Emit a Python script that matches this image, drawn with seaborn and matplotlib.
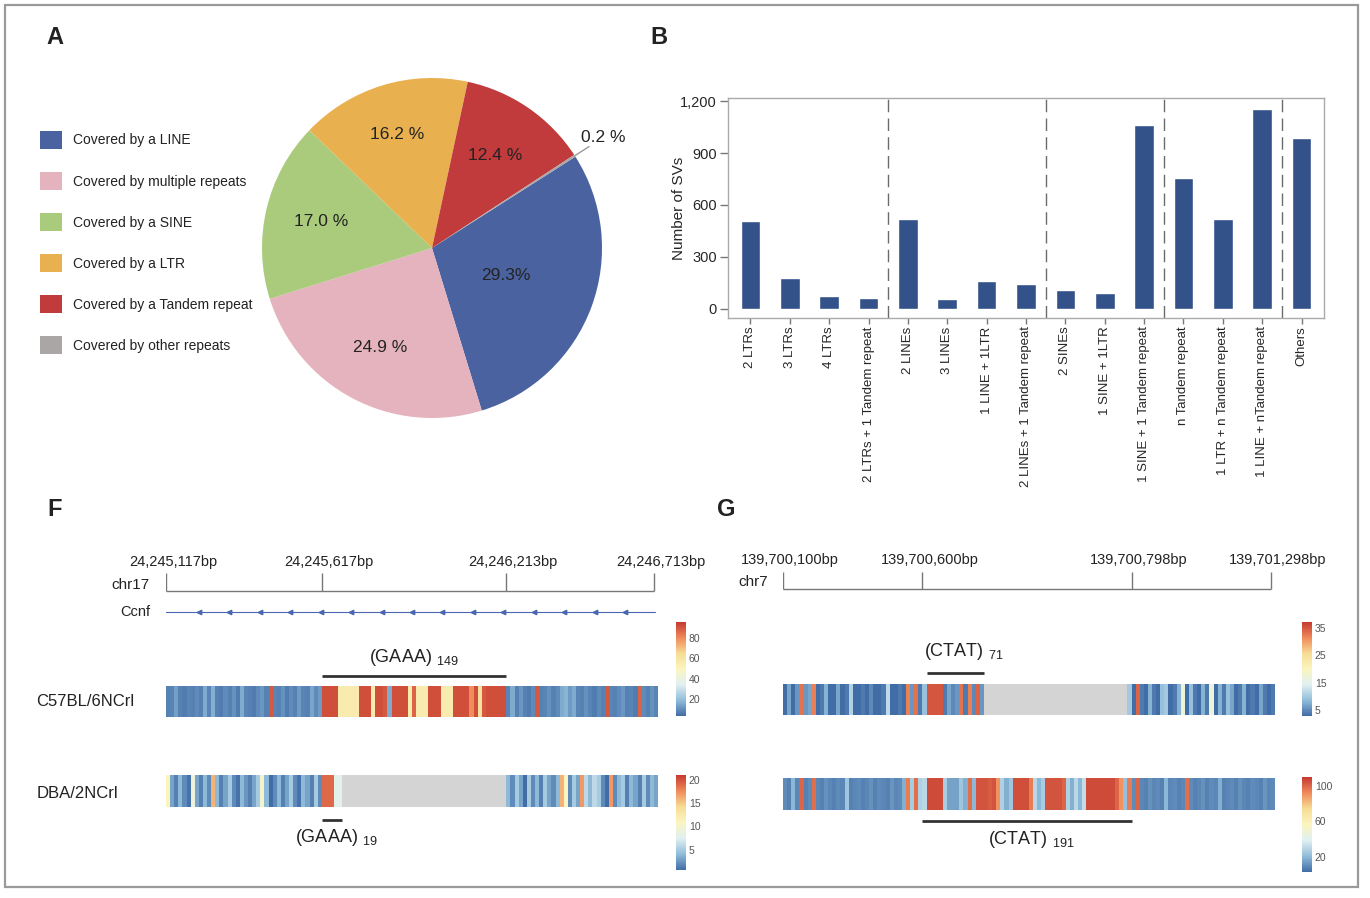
import numpy as np
import pandas as pd
import matplotlib
matplotlib.use("Agg")
import matplotlib.pyplot as plt
import seaborn as sns
from matplotlib.colors import LinearSegmentedColormap
from matplotlib.patches import Rectangle
from matplotlib.ticker import FuncFormatter
from matplotlib.transforms import offset_copy

# ---------------- data ----------------
# A: repeat content of SVs (%)
cover_labels = ["Covered by a LINE", "Covered by multiple repeats", "Covered by a SINE",
                "Covered by a LTR", "Covered by a Tandem repeat", "Covered by other repeats"]
cover_pct = [29.3, 24.9, 17.0, 16.2, 12.4, 0.2]
cover_text = ["29.3%", "24.9 %", "17.0 %", "16.2 %", "12.4 %", "0.2 %"]

# B: SVs covered by multiple repeats
combo_names = ["2 LTRs", "3 LTRs", "4 LTRs", "2 LTRs + 1 Tandem repeat",
               "2 LINEs", "3 LINEs", "1 LINE + 1LTR", "2 LINEs + 1 Tandem repeat",
               "2 SINEs", "1 SINE + 1LTR", "1 SINE + 1 Tandem repeat",
               "n Tandem repeat", "1 LTR + n Tandem repeat", "1 LINE + nTandem repeat",
               "Others"]
combo_counts = [510, 178, 72, 60, 517, 58, 157, 143, 105, 91, 1063, 757, 521, 1159, 989]
combo_group_sizes = [4, 4, 3, 3, 1]

# F: chr17 / Ccnf, (GAAA)n signal per bin
f_ruler_labels = ["24,245,117bp", "24,245,617bp", "24,246,213bp", "24,246,713bp"]
f_c57_left = [7, 8, 13, 7, 6, 8, 7, 9, 7, 15, 8, 16, 7, 6, 9, 7, 10, 6, 15, 8,
              7, 6, 9, 11, 7, 90, 8, 7, 10, 6, 9, 7, 12, 8, 7, 14, 9, 12]
f_c57_repeat = [92, 92, 92, 92, 56, 56, 56, 56, 56, 92, 92, 92, 56, 92, 92, 90, 15,
                92, 92, 92, 92, 56, 88, 56, 56, 56, 92, 92, 92, 56, 56, 56,
                92, 92, 92, 92, 80, 92, 62, 90, 92, 92, 92, 92, 92]
f_c57_right = [8, 15, 7, 11, 7, 6, 9, 90, 7, 8, 10, 7, 9, 15, 17, 12, 15, 8, 7, 10,
               8, 6, 9, 7, 90, 8, 7, 9, 11, 7, 8, 6, 88, 9, 7, 10, 8]
f_dba_left = [11, 3, 1.5, 4, 2, 1, 9, 3, 1.5, 4, 2, 16, 4, 1.5, 3, 5, 2, 1, 4, 2.5,
              1.5, 3, 5, 10, 4, 0, 2, 4, 1.5, 3, 5, 2, 1, 4, 3, 1.5, 5, 2]
f_dba_repeat = [19, 19, 19, 8, 8]
f_dba_gap_bins = 40
f_dba_right = [4, 2, 5, 3, 0, 5, 2, 4, 1.5, 5, 3, 2, 4, 16, 11, 2, 5, 3, 17, 6,
               4, 6, 5, 2, 0, 17, 2, 4, 5, 1.5, 4, 3, 1.5, 5, 2, 4, 3]
f_dba_span = [38, 43]

# G: chr7, (CTAT)n signal per bin
g_ruler_labels = ["139,700,100bp", "139,700,600bp", "139,700,798bp", "139,701,298bp"]
g_top_left = [3, 7, 3, 6, 33, 6, 7, 32, 3, 4, 8, 3, 2, 7, 3, 4, 11, 3, 2, 4,
              3, 5, 2, 3, 4, 12, 3, 2, 4, 3, 32, 6, 33, 4]
g_top_repeat = [9, 35, 35, 35, 35, 4, 7, 5, 6, 33, 4, 32, 5, 34, 6]
g_top_gap_bins = 35
g_top_tail = [10]
g_top_right = [3, 34, 4, 3, 8, 4, 3, 9, 10, 3, 4, 8, 17, 3, 9, 4, 3, 8, 4, 17,
               3, 8, 4, 9, 7, 3, 4, 8, 3, 4, 3, 7, 4, 3, 4]
g_top_span = [35, 49]
g_bot_left = [10, 8, 20, 9, 100, 8, 10, 98, 9, 8, 11, 9, 8, 10, 9, 24, 8, 9, 10, 8,
              9, 11, 8, 10, 9, 8, 12, 9, 10, 18, 95, 26, 98, 28]
g_bot_repeat = [30, 106, 106, 106, 106, 26, 15, 15, 15, 24, 18, 98, 20, 104, 104, 104,
                102, 104, 90, 28, 18, 24, 105, 105, 105, 105, 95, 30, 20, 26,
                104, 104, 104, 104, 100, 28, 18, 30, 20, 32,
                106, 106, 106, 106, 106, 106, 106, 100, 90, 22, 95]
g_bot_right = [10, 100, 9, 8, 11, 9, 10, 8, 20, 9, 10, 8, 9, 98, 10, 8, 9, 11, 8, 10,
               9, 18, 8, 9, 10, 8, 11, 9, 8, 10, 9, 8, 12, 9, 10]

# ---------------- style ----------------
sns.set_style("white")
plt.rcParams["font.family"] = ["Liberation Sans", "DejaVu Sans"]
plt.rcParams["mathtext.fontset"] = "custom"
plt.rcParams["mathtext.rm"] = "Liberation Sans"
plt.rcParams["mathtext.it"] = "Liberation Sans:italic"
plt.rcParams["mathtext.bf"] = "Liberation Sans:bold"
plt.rcParams["mathtext.default"] = "regular"
plt.rcParams["text.color"] = "#222222"

pie_colors = ["#4A63A0", "#E5B3BE", "#A9CB7B", "#E9B04F", "#C13A3C", "#ABA6A6"]
bar_color = "#33528A"
heat_cmap = LinearSegmentedColormap.from_list(
    "pheat", ["#416DA6", "#91BDDA", "#E0F0F2", "#FBF5C0", "#F7DC95", "#F08A5A", "#C53A30"])
na_color = "#D4D4D4"

W, H = 1370, 898
fig = plt.figure(figsize=(13.7, 8.98), dpi=100)


def box(x, y, w, h):
    return [x / W, 1 - (y + h) / H, w / W, h / H]


def fpos(x, y):
    return x / W, 1 - y / H


fig.add_artist(Rectangle(fpos(5, 887), 1353 / W, 882 / H, transform=fig.transFigure,
                         fill=False, edgecolor="#9a9a9a", lw=1.6))

for letter, x, y in [("A", 46, 38), ("B", 650, 38), ("F", 47, 510), ("G", 717, 510)]:
    fig.text(*fpos(x, y), letter, fontsize=17, fontweight="bold", ha="left", va="center")

# ---------------- A: pie ----------------
ax_pie = fig.add_axes(box(262, 78, 340, 340))
wedges, _ = ax_pie.pie(cover_pct, colors=pie_colors, startangle=32.5, counterclock=False,
                       wedgeprops=dict(linewidth=0))
ax_pie.set_xlim(-1, 1)
ax_pie.set_ylim(-1, 1)
ax_pie.set_aspect("equal")
label_r = [0.46, 0.66, 0.67, 0.70, 0.66, 1.2]
for w, txt, r in zip(wedges, cover_text, label_r):
    ang = np.deg2rad((w.theta1 + w.theta2) / 2)
    ax_pie.text(r * np.cos(ang), r * np.sin(ang), txt, ha="center", va="center",
                fontsize=12.5, color="#222222")
ang = np.deg2rad((wedges[-1].theta1 + wedges[-1].theta2) / 2)
ax_pie.plot([np.cos(ang), 1.1 * np.cos(ang)], [np.sin(ang), 1.1 * np.sin(ang)],
            color="#9a9a9a", lw=1, clip_on=False)

fig.legend(wedges, cover_labels, loc="upper left", bbox_to_anchor=fpos(40, 131),
           frameon=False, fontsize=10, handlelength=1.6, handleheight=1.6,
           labelspacing=1.67, handletextpad=0.75, borderpad=0, borderaxespad=0)

# ---------------- B: bars ----------------
ax_b = fig.add_axes(box(728, 98, 596, 220))
df_b = pd.DataFrame({"combo": combo_names, "n_sv": combo_counts})
sns.barplot(data=df_b, x="combo", y="n_sv", color=bar_color, saturation=1, width=0.5, ax=ax_b)
ax_b.set_xlim(-0.57, len(combo_names) - 0.43)
ax_b.set_ylim(-55, 1220)
ax_b.set_yticks([0, 300, 600, 900, 1200])
ax_b.yaxis.set_major_formatter(FuncFormatter(lambda v, p: f"{v:,.0f}"))
for sep in np.cumsum(combo_group_sizes)[:-1] - 0.5:
    ax_b.axvline(sep, color="#6b6b6b", lw=1, ls=(0, (9, 4.5)))
ax_b.set_xlabel("")
ax_b.set_ylabel("Number of SVs", fontsize=11)
ax_b.yaxis.set_label_coords(-0.0705, 0.5)
ax_b.tick_params(axis="x", rotation=90, labelsize=9.5, length=4, width=1, color="#777777",
                 pad=2, bottom=True)
ax_b.tick_params(axis="y", labelsize=10.5, length=6, width=1, color="#777777", pad=2, left=True)
for s in ax_b.spines.values():
    s.set_color("#aaaaaa")
    s.set_linewidth(1)


# ---------------- strip helper ----------------
def strip(ax, cax, values, vmin, vmax, ticks):
    sns.heatmap(np.array([values], dtype=float), ax=ax, cbar_ax=cax, cmap=heat_cmap,
                vmin=vmin, vmax=vmax, xticklabels=False, yticklabels=False,
                cbar_kws={"ticks": ticks})
    ax.set_facecolor(na_color)
    cb = ax.collections[0].colorbar
    cb.outline.set_visible(False)
    cax.tick_params(length=0, labelsize=7.5, colors="#555555", pad=2)


def ruler(ax, ticks, labels, y_line, y_top, y_text):
    ax.hlines(y_line, ticks[0], ticks[-1], color="#777777", lw=1)
    ax.vlines(ticks, y_top, y_line, color="#777777", lw=1)
    tr = offset_copy(ax.transData, fig=fig, x=7, y=0, units="dots")
    for t, lab in zip(ticks, labels):
        ax.text(t, y_text, lab, ha="center", va="center", fontsize=10.5, transform=tr)


# ---------------- F ----------------
f_c57 = f_c57_left + f_c57_repeat + f_c57_right
f_dba = f_dba_left + f_dba_repeat + [np.nan] * f_dba_gap_bins + f_dba_right
n_f = len(f_c57)
f_rep0, f_rep1 = len(f_c57_left), len(f_c57_left) + len(f_c57_repeat)

ax_f = fig.add_axes(box(166, 540, 492, 330))
ax_f.set_xlim(0, n_f)
ax_f.set_ylim(870, 540)
ax_f.axis("off")
ruler(ax_f, [0, f_rep0, f_rep1, n_f - 1], f_ruler_labels, 591, 573, 562)
ax_f.plot([0, n_f - 0.7], [612, 612], color="#4A66B0", lw=0.8)
ax_f.plot(np.linspace(8, 112, 15), [612] * 15, ls="none", marker="<", ms=3.2,
          color="#4A66B0")
ax_f.hlines(675.5, f_rep0, f_rep1, color="#333333", lw=2)
ax_f.text((f_rep0 + f_rep1) / 2, 658, r"(GAAA) $_{149}$", ha="center", va="center", fontsize=13)
ax_f.hlines(820, f_dba_span[0], f_dba_span[1], color="#333333", lw=2)
ax_f.text(sum(f_dba_span) / 2 + 1, 838, r"(GAAA) $_{19}$", ha="center", va="center", fontsize=13)

strip(fig.add_axes(box(166, 686, 492, 31)), fig.add_axes(box(676, 622, 10, 94)),
      f_c57, 3, 96, [20, 40, 60, 80])
strip(fig.add_axes(box(166, 775, 492, 32)), fig.add_axes(box(676, 775, 10, 95)),
      f_dba, 0.7, 21, [5, 10, 15, 20])

fig.text(*fpos(150, 585), "chr17", ha="right", va="center", fontsize=11)
fig.text(*fpos(150, 612), "Ccnf", ha="right", va="center", fontsize=10.5)
fig.text(*fpos(36, 702), "C57BL/6NCrl", ha="left", va="center", fontsize=12)
fig.text(*fpos(37, 793), "DBA/2NCrl", ha="left", va="center", fontsize=12)

# ---------------- G ----------------
g_top = g_top_left + g_top_repeat + [np.nan] * g_top_gap_bins + g_top_tail + g_top_right
g_bot = g_bot_left + g_bot_repeat + g_bot_right
n_g = len(g_bot)
g_rep0, g_rep1 = len(g_bot_left), len(g_bot_left) + len(g_bot_repeat)

ax_g = fig.add_axes(box(783, 540, 492, 330))
ax_g.set_xlim(0, n_g)
ax_g.set_ylim(870, 540)
ax_g.axis("off")
ruler(ax_g, [0, g_rep0, g_rep1, n_g - 1], g_ruler_labels, 589, 572, 560)
ax_g.hlines(672.5, g_top_span[0], g_top_span[1], color="#333333", lw=2)
ax_g.text(sum(g_top_span) / 2 + 2, 652, r"(CTAT) $_{71}$", ha="center", va="center", fontsize=13)
ax_g.hlines(821, g_rep0, g_rep1, color="#333333", lw=2)
ax_g.text((g_rep0 + g_rep1) / 2 + 1, 839, r"(CTAT) $_{191}$", ha="center", va="center", fontsize=13)

strip(fig.add_axes(box(783, 684, 492, 31)), fig.add_axes(box(1302, 622, 10, 94)),
      g_top, 3, 37, [5, 15, 25, 35])
strip(fig.add_axes(box(783, 778, 492, 32)), fig.add_axes(box(1302, 777, 10, 95)),
      g_bot, 3, 110, [20, 60, 100])

fig.text(*fpos(768, 582), "chr7", ha="right", va="center", fontsize=11)

fig.savefig("out.png", dpi=100)
